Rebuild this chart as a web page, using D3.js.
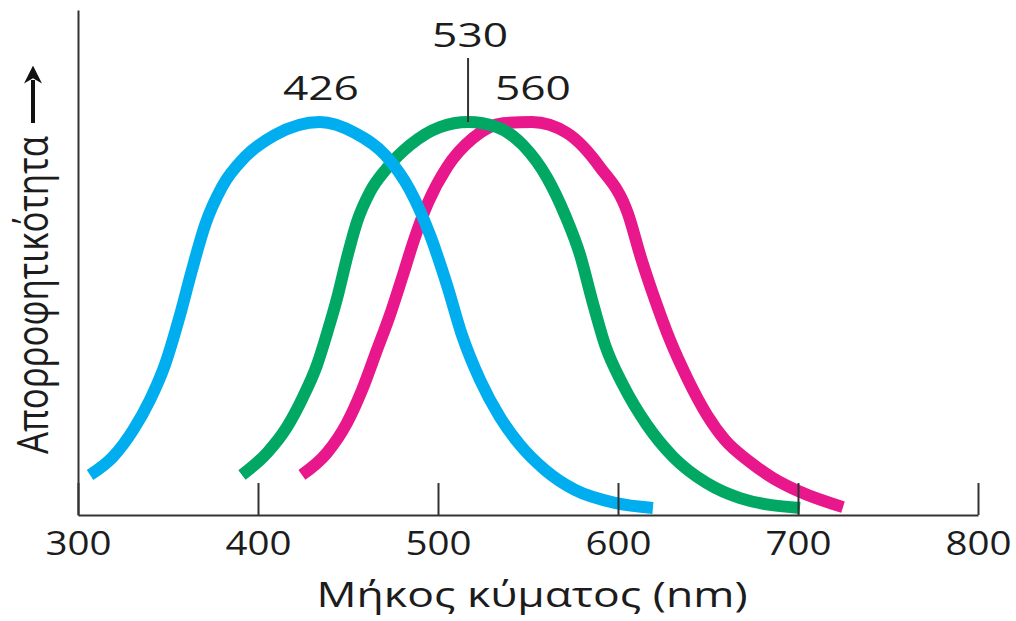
<!DOCTYPE html>
<meta charset="utf-8">
<head>
<style>
  body { margin: 0; background: #fff; }
  text { font-family: "Open Sans", "DejaVu Sans", sans-serif; fill: #1c1c1c; }
</style>
</head>
<body>
<svg width="1016" height="621"></svg>

<script src="https://d3js.org/d3.v7.min.js"></script>
<script>
// wavelength (nm) / relative absorbance
var blueNm   = [306.7, 319.4, 330.6, 340.0, 348.3, 356.7, 363.3, 370.6, 380.0, 392.8, 409.4, 434.4, 453.9, 470.6, 484.4, 495.6, 505.0, 513.3, 523.3, 534.4, 545.6, 559.4, 576.1, 598.3, 619.4];
var blueAbs  = [0.102, 0.148, 0.216, 0.293, 0.382, 0.509, 0.623, 0.738, 0.835, 0.911, 0.967, 1.000, 0.972, 0.916, 0.827, 0.712, 0.585, 0.458, 0.344, 0.249, 0.178, 0.115, 0.064, 0.031, 0.018];

var greenNm  = [391.1, 405.0, 416.1, 425.0, 432.8, 438.9, 444.4, 449.4, 455.0, 462.2, 471.7, 484.4, 501.1, 516.7, 532.8, 547.2, 560.6, 570.6, 578.9, 585.6, 592.8, 602.8, 616.1, 630.6, 649.4, 667.8, 701.1];
var greenAbs = [0.102, 0.158, 0.224, 0.300, 0.382, 0.471, 0.560, 0.654, 0.746, 0.822, 0.883, 0.941, 0.987, 1.000, 0.987, 0.941, 0.858, 0.763, 0.662, 0.547, 0.433, 0.331, 0.229, 0.148, 0.081, 0.043, 0.018];

var redNm    = [424.4, 438.3, 449.4, 457.8, 466.1, 473.3, 480.0, 486.7, 494.4, 505.0, 519.4, 536.1, 552.2, 571.7, 590.0, 605.6, 612.8, 620.6, 628.9, 638.9, 649.4, 659.4, 673.3, 686.1, 701.1, 725.0];
var redAbs   = [0.102, 0.158, 0.234, 0.318, 0.420, 0.509, 0.603, 0.700, 0.794, 0.885, 0.959, 0.997, 1.000, 0.972, 0.885, 0.766, 0.654, 0.547, 0.445, 0.344, 0.255, 0.191, 0.135, 0.094, 0.059, 0.020];

var peakLabels = ["426", "530", "560"];
var xTicks = [300, 400, 500, 600, 700, 800];

var svg = d3.select("svg"),
    margin = {top: 10, right: 38, bottom: 106, left: 78},
    width = 1016 - margin.left - margin.right,
    height = 621 - margin.top - margin.bottom,
    g = svg.append("g").attr("transform", "translate(" + margin.left + "," + margin.top + ")");

var x = d3.scaleLinear().domain([300, 800]).range([0, width]),
    y = d3.scaleLinear().domain([0, 1.285]).range([height, 0]);

var line = d3.line()
    .curve(d3.curveMonotoneX)
    .x(function(d) { return x(d[0]); })
    .y(function(d) { return y(d[1]); });

// drawn bottom to top: magenta, green, blue
var series = [
  {nm: redNm,   abs: redAbs,   color: "#e8178c", label: peakLabels[2]},
  {nm: greenNm, abs: greenAbs, color: "#00a864", label: peakLabels[1]},
  {nm: blueNm,  abs: blueAbs,  color: "#00aeef", label: peakLabels[0]}
];

series.forEach(function(s) {
  g.append("path")
      .attr("fill", "none")
      .attr("stroke", s.color)
      .attr("stroke-width", 12)
      .attr("d", line(d3.zip(s.nm, s.abs)));
});

// axes
g.append("g")
    .attr("class", "axis axis--x")
    .attr("transform", "translate(0," + height + ")")
    .call(d3.axisBottom(x).tickValues(xTicks).tickFormat(d3.format("d"))
      .tickSizeInner(-32).tickSizeOuter(0).tickPadding(17))
    .call(function(a) {
      a.selectAll("path, line").attr("stroke", "#333").attr("stroke-width", 2);
      a.selectAll("text").attr("font-size", 32).attr("fill", "#1c1c1c")
        .attr("font-family", "'Open Sans', sans-serif")
        .attr("textLength", 66).attr("lengthAdjust", "spacingAndGlyphs");
    });

g.append("g")
    .attr("class", "axis axis--y")
    .call(d3.axisLeft(y).ticks(0).tickSizeOuter(0))
    .call(function(a) {
      a.selectAll("path").attr("stroke", "#333").attr("stroke-width", 2);
    });

// peak labels
series.forEach(function(s) {
  var i = d3.maxIndex(s.abs),
      px = x(s.nm[i]), py = y(s.abs[i]);
  var t = g.append("text")
      .attr("text-anchor", "middle")
      .attr("font-size", 32)
      .attr("textLength", 76).attr("lengthAdjust", "spacingAndGlyphs")
      .text(s.label);
  if (s.label === "530") {
    g.append("line")
        .attr("x1", px).attr("x2", px)
        .attr("y1", py - 64).attr("y2", py)
        .attr("stroke", "#333").attr("stroke-width", 2);
    t.attr("x", px + 2).attr("y", py - 75);
  } else {
    t.attr("x", px + 1).attr("y", py - 22);
  }
});

// axis titles
svg.append("text")
    .attr("x", 532).attr("y", 607)
    .attr("text-anchor", "middle")
    .attr("font-size", 34)
    .attr("textLength", 431).attr("lengthAdjust", "spacingAndGlyphs")
    .text("Μήκος κύματος (nm)");

svg.append("text")
    .attr("transform", "translate(48,295) rotate(-90)")
    .attr("text-anchor", "middle")
    .attr("font-size", 44)
    .attr("textLength", 318)
    .attr("lengthAdjust", "spacingAndGlyphs")
    .text("Απορροφητικότητα");

// arrow up
svg.append("defs").append("marker")
    .attr("id", "head")
    .attr("viewBox", "0 0 10 10")
    .attr("refX", 2).attr("refY", 5)
    .attr("markerWidth", 4.5).attr("markerHeight", 5.5)
    .attr("markerUnits", "strokeWidth")
    .attr("orient", "auto")
  .append("path")
    .attr("d", "M0,0 L10,5 L0,10 L3,5 Z")
    .attr("fill", "#111");

svg.append("line")
    .attr("x1", 33).attr("x2", 33)
    .attr("y1", 123).attr("y2", 80)
    .attr("stroke", "#111").attr("stroke-width", 4)
    .attr("marker-end", "url(#head)");
</script>
</body>
